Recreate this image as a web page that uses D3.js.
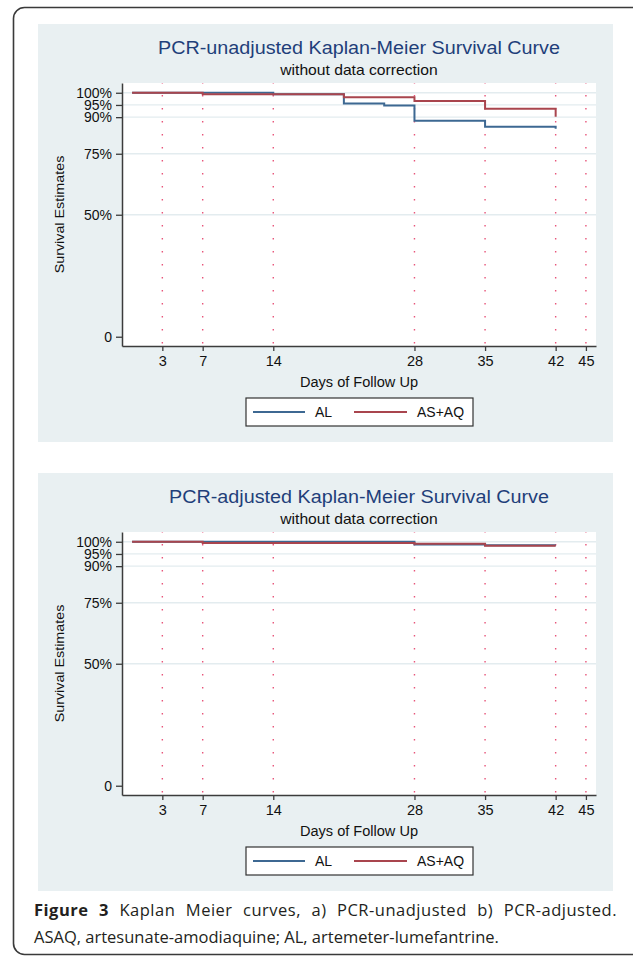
<!DOCTYPE html>
<html>
<head>
<meta charset="utf-8">
<script src="https://cdn.jsdelivr.net/npm/d3@7"></script>
<style>
  html, body { margin: 0; padding: 0; background: #fff; }
  svg { display: block; }
</style>
</head>
<body>
<div id="figure"></div>
<script>
// ==================== data ====================
const xTicks = [3, 7, 14, 28, 35, 42, 45];
const yTicks = [0, 0.5, 0.75, 0.9, 0.95, 1];
const yTickLabels = ["0", "50%", "75%", "90%", "95%", "100%"];
const seriesNames = ["AL", "AS+AQ"];
const panelTitles = [
    "PCR-unadjusted  Kaplan-Meier Survival Curve",
    "PCR-adjusted  Kaplan-Meier Survival Curve"
];
const panelSubtitle = "without data correction";
const xAxisTitle = "Days of Follow Up";
const yAxisTitle = "Survival Estimates";

// a) PCR-unadjusted: step points (day, survival)
const unadjDaysAL = [0, 14, 21, 25, 28, 35, 42];
const unadjSurvAL = [1, 0.994, 0.956, 0.948, 0.885, 0.861, 0.852];
const unadjDaysASAQ = [0, 7, 21, 28, 35, 42];
const unadjSurvASAQ = [1, 0.994, 0.982, 0.966, 0.934, 0.902];

// b) PCR-adjusted
const adjDaysAL = [0, 28, 35, 42];
const adjSurvAL = [1, 0.989, 0.986, 0.986];
const adjDaysASAQ = [0, 7, 28, 35, 42];
const adjSurvASAQ = [1, 0.995, 0.992, 0.984, 0.984];

const captionBold = "Figure 3";
const captionLine1 = " Kaplan Meier curves, a) PCR-unadjusted b) PCR-adjusted.";
const captionLine2 = "ASAQ, artesunate-amodiaquine; AL, artemeter-lumefantrine.";

// ==================== chart ====================
const KMChart = {
    config: {
        width: 633,
        height: 958,
        panelOffset: 449,
        panel: {x: 38, y: 24, w: 575, h: 418},
        plot: {left: 122, right: 596, top: 83, bottom: 346},
        colors: {AL: "#3d6892", "AS+AQ": "#a9454e"},
        bg: "#e9f0f2",
        grid: "#e3ecef",
        dots: "#e8557a",
        font: "'Liberation Sans', Arial, sans-serif",
        captionFont: "'Open Sans', 'Noto Sans', sans-serif"
    },

    init(containerId = "#figure") {
        const c = this.config;
        this.svg = d3.select(containerId).append("svg")
            .attr("width", c.width)
            .attr("height", c.height);

        // outer rounded frame (runs off the right edge)
        this.svg.append("rect")
            .attr("x", 13.5).attr("y", 7.5)
            .attr("width", 660).attr("height", 947)
            .attr("rx", 11)
            .attr("fill", "#fff")
            .attr("stroke", "#3a3a3a")
            .attr("stroke-width", 1.6);

        this.x = d3.scaleLinear().domain([-1, 46]).range([c.plot.left, c.plot.right]);
        this.y = d3.scaleLinear().domain([-0.038, 1.04]).range([c.plot.bottom, c.plot.top]);

        this.line = d3.line()
            .x(d => this.x(d.day))
            .y(d => this.y(d.surv))
            .curve(d3.curveStepAfter);
    },

    // put text at (x,y) with a horizontal stretch like the Stata output
    stretchedText(g, x, y, txt, size, sx, anchor = "middle") {
        return g.append("text")
            .attr("transform", `translate(${x},${y}) scale(${sx},1)`)
            .attr("text-anchor", anchor)
            .style("font-family", this.config.font)
            .style("font-size", size + "px")
            .text(txt);
    },

    render(index, series) {
        const c = this.config;
        const g = this.svg.append("g")
            .attr("transform", `translate(0,${index * c.panelOffset})`);

        g.append("rect")
            .attr("x", c.panel.x).attr("y", c.panel.y)
            .attr("width", c.panel.w).attr("height", c.panel.h)
            .attr("fill", c.bg);

        // white plot region
        g.append("rect")
            .attr("x", c.plot.left).attr("y", c.plot.top)
            .attr("width", c.plot.right - c.plot.left)
            .attr("height", c.plot.bottom - c.plot.top)
            .attr("fill", "#fff");

        // horizontal grid lines
        g.selectAll(".grid")
            .data(yTicks.filter(d => d > 0))
            .join("line")
            .attr("class", "grid")
            .attr("x1", c.plot.left).attr("x2", c.plot.right)
            .attr("y1", d => this.y(d)).attr("y2", d => this.y(d))
            .attr("stroke", c.grid)
            .attr("stroke-width", 1.3);

        // dotted vertical reference lines
        g.selectAll(".vref")
            .data(xTicks)
            .join("line")
            .attr("class", "vref")
            .attr("x1", d => this.x(d)).attr("x2", d => this.x(d))
            .attr("y1", c.plot.top).attr("y2", c.plot.bottom)
            .attr("stroke", c.dots)
            .attr("stroke-width", 1.4)
            .attr("stroke-dasharray", "1.4,11.6")
            .attr("stroke-dashoffset", -12);

        // survival curves (AS+AQ drawn last, on top)
        series.forEach(s => {
            const pts = s.days.map((d, i) => ({day: d, surv: s.surv[i]}));
            g.append("path")
                .datum(pts)
                .attr("d", this.line)
                .attr("fill", "none")
                .attr("stroke", c.colors[s.name])
                .attr("stroke-width", 2);
        });

        // axes
        const yAxis = g.append("g")
            .attr("transform", `translate(${c.plot.left},0)`)
            .call(d3.axisLeft(this.y)
                .tickValues(yTicks)
                .tickFormat((d, i) => yTickLabels[i])
                .tickSize(6)
                .tickSizeOuter(0)
                .tickPadding(4));

        const xAxis = g.append("g")
            .attr("transform", `translate(0,${c.plot.bottom})`)
            .call(d3.axisBottom(this.x)
                .tickValues(xTicks)
                .tickSize(5)
                .tickSizeOuter(0)
                .tickPadding(5));

        [yAxis, xAxis].forEach(a => {
            a.select(".domain").attr("stroke", "#3c3c3c").attr("stroke-width", 1.5);
            a.selectAll(".tick line").attr("stroke", "#3c3c3c").attr("stroke-width", 1.3);
            a.selectAll(".tick text")
                .attr("fill", "#111")
                .style("font-family", c.font);
        });
        yAxis.selectAll(".tick text").style("font-size", "14px");
        xAxis.selectAll(".tick text").style("font-size", "14.5px");

        const cx = (c.plot.left + c.plot.right) / 2;

        // titles
        this.stretchedText(g, cx, 53.5, panelTitles[index], 17.5, 1.13)
            .attr("fill", "#1f3f7a");
        this.stretchedText(g, cx, 75, panelSubtitle, 14.5, 1.08)
            .attr("fill", "#111");

        // axis titles
        this.stretchedText(g, cx, 387, xAxisTitle, 14, 1.04)
            .attr("fill", "#111");
        g.append("text")
            .attr("transform", `translate(64,${(c.plot.top + c.plot.bottom) / 2}) rotate(-90) scale(1.06,1)`)
            .attr("text-anchor", "middle")
            .style("font-family", c.font)
            .style("font-size", "13.5px")
            .attr("fill", "#111")
            .text(yAxisTitle);

        this.renderLegend(g);
    },

    renderLegend(g) {
        const c = this.config;
        const box = {x: 246, y: 398, w: 227, h: 28};
        g.append("rect")
            .attr("x", box.x).attr("y", box.y)
            .attr("width", box.w).attr("height", box.h)
            .attr("fill", "#fff")
            .attr("stroke", "#333")
            .attr("stroke-width", 1.2);

        const ly = box.y + box.h / 2;
        const items = [
            {name: seriesNames[0], x0: 253, x1: 305, tx: 315},
            {name: seriesNames[1], x0: 354, x1: 407, tx: 417}
        ];
        items.forEach(it => {
            g.append("line")
                .attr("x1", it.x0).attr("x2", it.x1)
                .attr("y1", ly).attr("y2", ly)
                .attr("stroke", c.colors[it.name])
                .attr("stroke-width", 2);
            this.stretchedText(g, it.tx, ly + 5, it.name, 14, 1.0, "start")
                .attr("fill", "#111");
        });
    },

    // caption: first line justified to the column width, last line left aligned
    renderCaption() {
        const c = this.config;
        const left = 34, right = 617;

        const t1 = this.svg.append("text")
            .attr("x", left).attr("y", 916)
            .style("font-family", c.captionFont)
            .style("font-size", "16.5px")
            .style("letter-spacing", "0.5px")
            .attr("fill", "#231f20");
        t1.append("tspan").style("font-weight", "bold").text(captionBold);
        t1.append("tspan").text(captionLine1);

        const natural = t1.node().getComputedTextLength();
        const gaps = (captionBold + captionLine1).split(" ").length - 1;
        t1.style("word-spacing", Math.max(0, (right - left - natural) / gaps) + "px");

        this.svg.append("text")
            .attr("x", left).attr("y", 943)
            .style("font-family", c.captionFont)
            .style("font-size", "16.5px")
            .attr("fill", "#231f20")
            .text(captionLine2);
    }
};

KMChart.init();
KMChart.render(0, [
    {name: seriesNames[0], days: unadjDaysAL, surv: unadjSurvAL},
    {name: seriesNames[1], days: unadjDaysASAQ, surv: unadjSurvASAQ}
]);
KMChart.render(1, [
    {name: seriesNames[0], days: adjDaysAL, surv: adjSurvAL},
    {name: seriesNames[1], days: adjDaysASAQ, surv: adjSurvASAQ}
]);
KMChart.renderCaption();
</script>
</body>
</html>
